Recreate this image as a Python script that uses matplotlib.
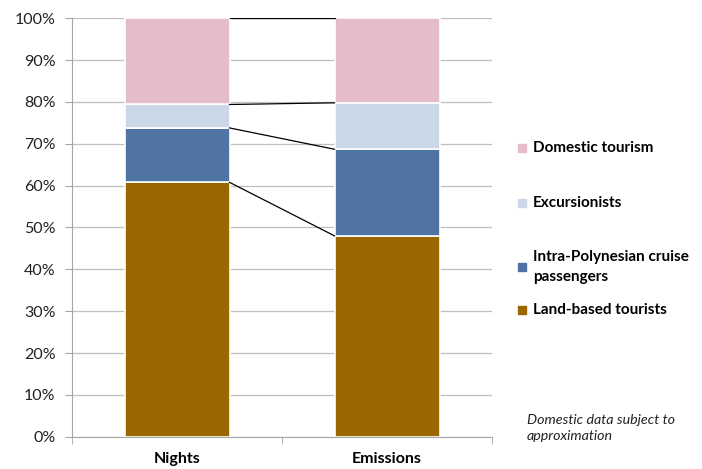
import matplotlib.pyplot as plt
import numpy as np
from matplotlib.patches import Rectangle

plt.rcParams['font.family'] = ['Lato', 'DejaVu Sans']

categories = ['Nights', 'Emissions']
series = ['Land-based tourists', 'Intra-Polynesian cruise\npassengers', 'Excursionists', 'Domestic tourism']
land = [60.8, 48.0]
cruise = [13.0, 20.7]
excursion = [5.6, 11.1]
domestic = [20.6, 20.2]
colors = ['#996600', '#4f74a4', '#cad7e7', '#e4bdc9']

values = np.array([land, cruise, excursion, domestic])

fig = plt.figure(figsize=(7.02, 4.69), dpi=100)
ax = fig.add_axes([72 / 702, 1 - 436.7 / 469, 420 / 702, 418.4 / 469])

x = np.arange(len(categories))
width = 0.5
bottom = np.zeros(len(categories))
for vals, c, name in zip(values, colors, series):
    ax.bar(x, vals, width, bottom=bottom, color=c, edgecolor='white', linewidth=1.2, zorder=3)
    bottom = bottom + vals
    # connector lines between the stacks
    ax.plot([x[0] + width / 2, x[1] - width / 2], [bottom[0], bottom[1]],
            color='black', linewidth=0.9, zorder=4)

ax.set_xlim(-0.5, 1.5)
ax.set_ylim(0, 100)
ax.set_yticks(np.arange(0, 101, 10))
ax.set_yticklabels([f'{v}%' for v in range(0, 101, 10)], fontsize=11.5, color='#222222')
ax.set_xticks(x)
ax.set_xticklabels(categories, fontsize=11.5, fontweight='bold')
ax.set_xticks([-0.5, 0.5, 1.5], minor=True)
ax.tick_params(axis='x', which='major', length=0, pad=11)
ax.tick_params(axis='x', which='minor', length=5, color='#a6a6a6', direction='out')
ax.tick_params(axis='y', length=5, color='#a6a6a6', pad=7)
ax.yaxis.grid(True, color='#bfbfbf', linewidth=0.9, zorder=0)
for s in ['top', 'right']:
    ax.spines[s].set_visible(False)
for s in ['left', 'bottom']:
    ax.spines[s].set_color('#a6a6a6')
ax.set_axisbelow(True)

# legend, drawn by hand to keep the uneven spacing
legend_y = [310, 267, 203, 148]
for name, c, yy in zip(series, colors, legend_y):
    fig.patches.append(Rectangle((518 / 702, 1 - (yy + 4) / 469), 8 / 702, 8 / 469,
                                 transform=fig.transFigure, color=c, figure=fig))
    fig.text(533 / 702, 1 - yy / 469, name, fontsize=11, fontweight='bold',
             va='center', ha='left', linespacing=1.5)

fig.text(527 / 702, 1 - 428 / 469, 'Domestic data subject to\napproximation',
         fontsize=10.3, style='italic', va='center', ha='left', color='#222222', linespacing=1.35)

fig.savefig('out.png', dpi=100)
